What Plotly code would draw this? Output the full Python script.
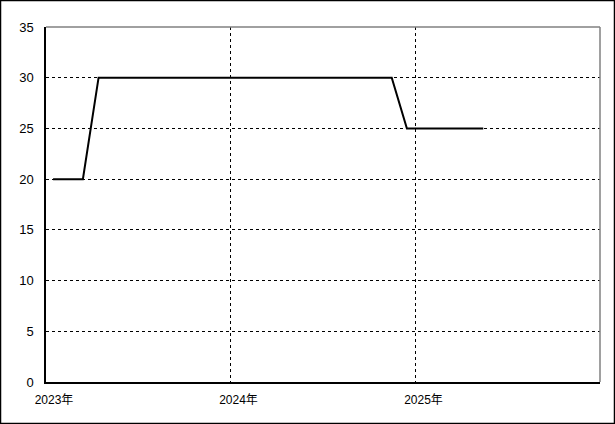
import plotly.graph_objects as go

months = ["2023-01-15", "2023-02-15", "2023-03-15", "2023-04-15", "2023-05-15", "2023-06-15",
          "2023-07-15", "2023-08-15", "2023-09-15", "2023-10-15", "2023-11-15", "2023-12-15",
          "2024-01-15", "2024-02-15", "2024-03-15", "2024-04-15", "2024-05-15", "2024-06-15",
          "2024-07-15", "2024-08-15", "2024-09-15", "2024-10-15", "2024-11-15", "2024-12-15",
          "2025-01-15", "2025-02-15", "2025-03-15", "2025-04-15", "2025-05-15"]
values = [20, 20, 20, 30, 30, 30, 30, 30, 30, 30, 30, 30,
          30, 30, 30, 30, 30, 30, 30, 30, 30, 30, 30, 25,
          25, 25, 25, 25, 25]
x_tickvals = ["2023-01-01", "2024-01-01", "2025-01-01"]
x_ticktext = ["2023年", "2024年", "2025年"]
y_ticks = [0, 5, 10, 15, 20, 25, 30, 35]

W, H = 615, 424
ml, mr, mt, mb = 46, 15, 27, 42
pw, ph = W - ml - mr, H - mt - mb

fig = go.Figure(go.Scatter(x=months, y=values, mode="lines",
                           line=dict(color="black", width=2), hoverinfo="skip"))

fig.update_layout(
    width=W, height=H,
    margin=dict(l=ml, r=mr, t=mt, b=mb),
    paper_bgcolor="white", plot_bgcolor="white",
    showlegend=False,
    font=dict(family="Liberation Sans, Noto Sans CJK JP", size=13, color="black"),
    xaxis=dict(type="date", range=["2023-01-01", "2026-01-01"],
               tickvals=x_tickvals, ticktext=x_ticktext, ticks="",
               ticklabelstandoff=6, ticklabelshift=8,
               showgrid=True, gridcolor="black", griddash="3px,3px", gridwidth=1,
               showline=True, linecolor="black", linewidth=1.5,
               zeroline=False, tickfont=dict(size=12)),
    yaxis=dict(range=[0, 35], tickvals=y_ticks, ticks="",
               ticklabelstandoff=8,
               showgrid=True, gridcolor="black", griddash="3px,3px", gridwidth=1,
               showline=True, linecolor="black", linewidth=1.5,
               zeroline=False, tickfont=dict(size=13)),
    shapes=[
        dict(type="line", xref="paper", yref="paper", x0=0, x1=1, y0=1, y1=1,
             line=dict(color="gray", width=1.5)),
        dict(type="line", xref="paper", yref="paper", x0=1, x1=1, y0=0, y1=1,
             line=dict(color="gray", width=1.5)),
        dict(type="rect", xref="paper", yref="paper",
             x0=-(ml - 0.5) / pw, x1=1 + (mr - 0.5) / pw,
             y0=-(mb - 0.5) / ph, y1=1 + (mt - 0.5) / ph,
             line=dict(color="black", width=1.5), layer="above"),
    ],
)

fig.write_html("out.html", config={"displayModeBar": False},
               post_script="document.body.style.margin='0px';")
